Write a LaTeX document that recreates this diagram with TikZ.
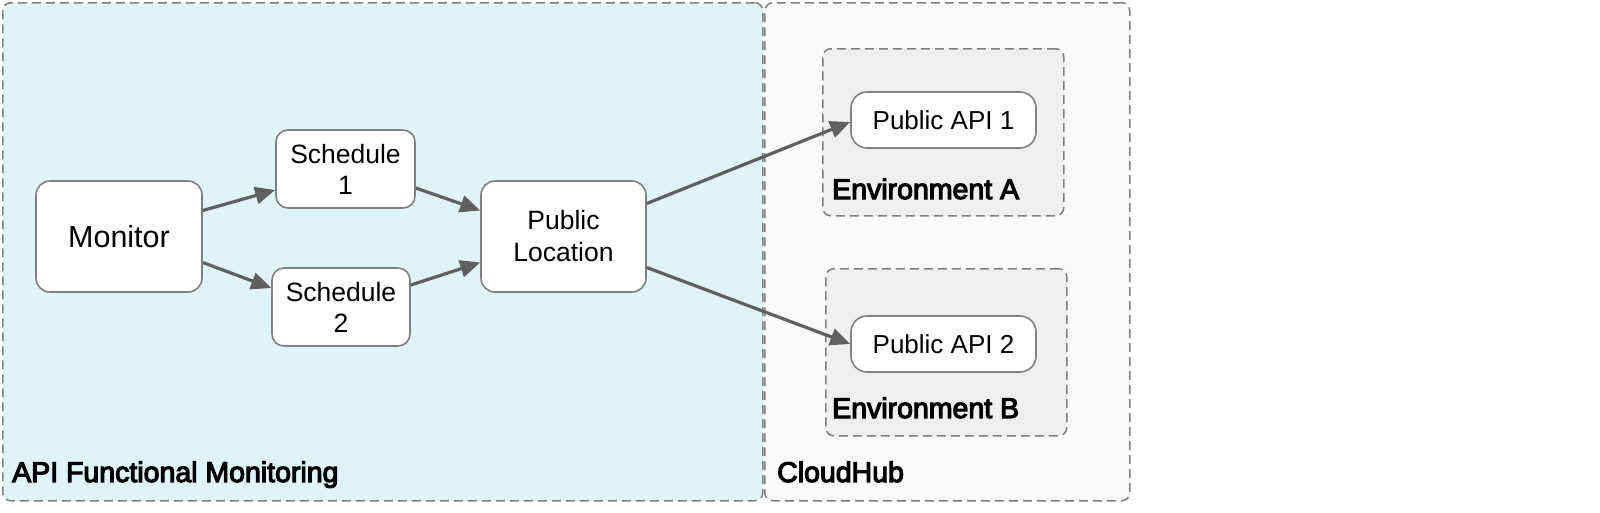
\documentclass[tikz,border=0pt]{standalone}
\usepackage{fontspec}
\setmainfont{Liberation Sans}
\newfontfamily\lblfont[FakeBold=4]{Liberation Sans}
\usetikzlibrary{arrows.meta}
\definecolor{afmfill}{HTML}{DFF3FA}
\definecolor{chfill}{HTML}{F9F9F9}
\definecolor{envfill}{HTML}{EFEFEF}
\definecolor{bordergray}{HTML}{808080}
\definecolor{arrowgray}{HTML}{606060}
\tikzset{
  cont/.style={draw=bordergray, line width=1.5pt, dash pattern=on 9pt off 5pt, rounded corners=8pt, anchor=north west, inner sep=0pt},
  box/.style={draw=bordergray, fill=white, line width=1.6pt, rounded corners=12pt, inner sep=0pt, align=center, text=black},
  lbl/.style={anchor=base west, inner sep=0pt, font=\lblfont\fontsize{28.5}{32}\selectfont},
  conn/.style={draw=arrowgray, line width=3.2pt, -{Triangle[length=20pt,width=17pt]}},
}
\begin{document}
\begin{tikzpicture}[x=1pt,y=-1pt]
\useasboundingbox (0,0) rectangle (1600,512);
% containers
\node[cont, fill=afmfill, minimum width=760pt, minimum height=498pt] (afm) at (2,2) {};
\node[cont, fill=chfill, minimum width=365pt, minimum height=498pt] (ch) at (764,2) {};
\node[cont, fill=envfill, minimum width=241pt, minimum height=167pt] (enva) at (822,48) {};
\node[cont, fill=envfill, minimum width=241pt, minimum height=167pt] (envb) at (825,268) {};
% labels
\node[lbl] (afmlbl) at (12,482) {API Functional Monitoring};
\node[lbl] (chlbl) at (777,482) {CloudHub};
\node[lbl] (enval) at (832,199) {Environment A};
\node[lbl] (envbl) at (832,418) {Environment B};
% nodes
\node[box, rounded corners=14pt, minimum width=166pt, minimum height=111pt, font=\fontsize{30.5}{35}\selectfont] (mon) at (119,236.5) {Monitor};
\node[box, minimum width=139pt, minimum height=78pt, font=\fontsize{26.5}{31}\selectfont] (s1) at (345.5,169) {Schedule\\1};
\node[box, minimum width=138pt, minimum height=78pt, font=\fontsize{26.5}{31}\selectfont] (s2) at (341,307) {Schedule\\2};
\node[box, rounded corners=14pt, minimum width=165pt, minimum height=111pt, font=\fontsize{26.5}{32}\selectfont] (pl) at (563.5,236.5) {Public\\Location};
\node[box, rounded corners=16pt, minimum width=185pt, minimum height=56pt, font=\fontsize{26}{30}\selectfont] (api1) at (943.5,120) {Public API 1};
\node[box, rounded corners=16pt, minimum width=185pt, minimum height=56pt, font=\fontsize{26}{30}\selectfont] (api2) at (943.5,344) {Public API 2};
% connectors
\draw[conn] ([yshift=26pt]mon.east) -- ([yshift=-21pt]s1.west);
\draw[conn] ([yshift=-26pt]mon.east) -- ([yshift=19pt]s2.west);
\draw[conn] ([yshift=-19pt]s1.east) -- ([yshift=26pt]pl.west);
\draw[conn] ([yshift=22pt]s2.east) -- ([yshift=-26pt]pl.west);
\draw[conn] ([yshift=33pt]pl.east) -- ([yshift=-2pt]api1.west);
\draw[conn] ([yshift=-31pt]pl.east) -- ([yshift=0pt]api2.west);
\end{tikzpicture}
\end{document}
